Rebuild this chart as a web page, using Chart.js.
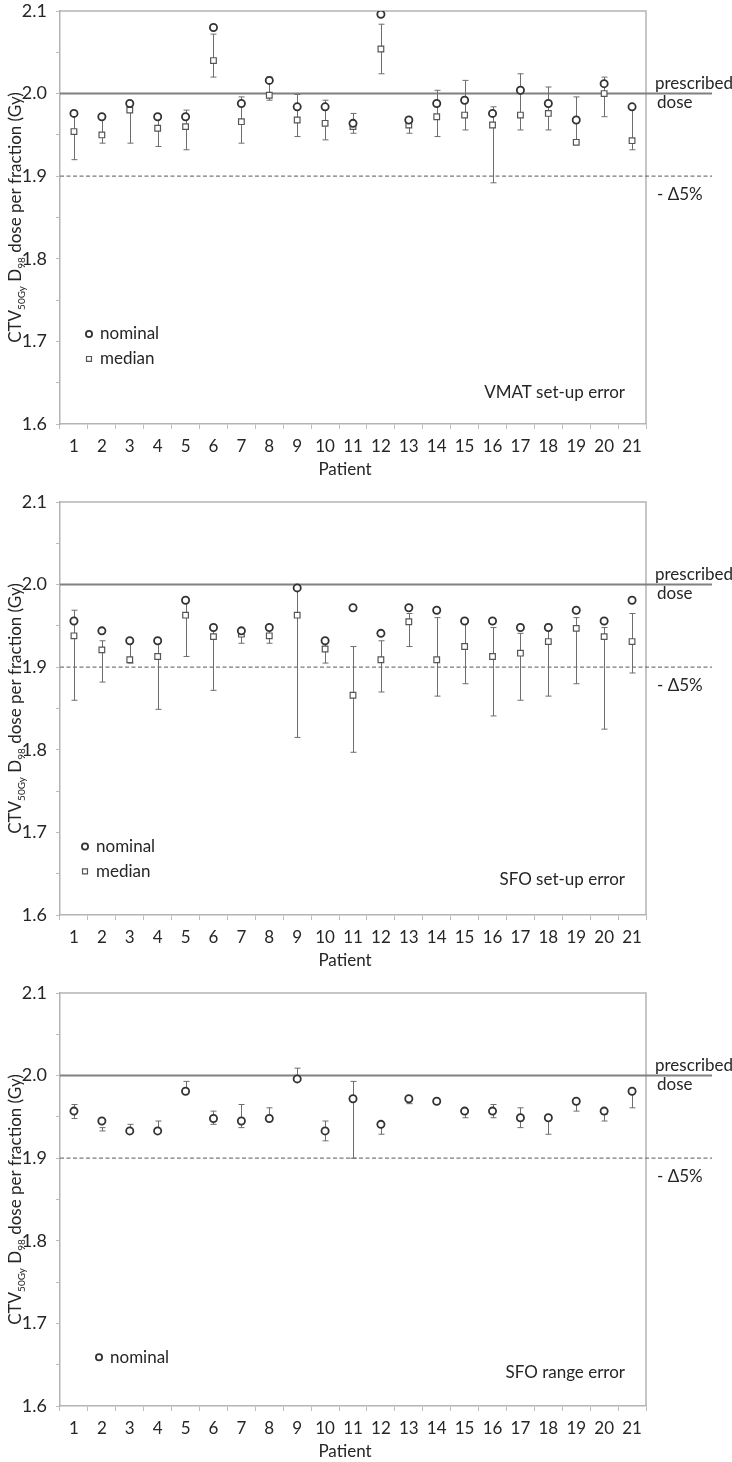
<!DOCTYPE html>
<html>
<head>
<meta charset="utf-8">
<script src="https://cdn.jsdelivr.net/npm/chart.js@4"></script>
<style>
  html, body { margin: 0; padding: 0; background: #fff; overflow: hidden; }
  body { width: 732px; height: 1462px; position: relative; }
  canvas { position: absolute; left: 0; }
</style>
</head>
<body>
<canvas id="vmatChart" width="732" height="480" style="top:0px"></canvas>
<canvas id="sfoChart" width="732" height="480" style="top:491px"></canvas>
<canvas id="rangeChart" width="732" height="480" style="top:982px"></canvas>
<script>
// Data
const patients = ['1','2','3','4','5','6','7','8','9','10','11','12','13','14','15','16','17','18','19','20','21'];
const prescribedDose = 2.0;
const minus5pct = 1.9;

// VMAT set-up error
const vmatNominal = [1.976, 1.972, 1.988, 1.972, 1.972, 2.080, 1.988, 2.016, 1.984, 1.984, 1.964, 2.096, 1.968, 1.988, 1.992, 1.976, 2.004, 1.988, 1.968, 2.012, 1.984];
const vmatMedian  = [1.954, 1.950, 1.980, 1.958, 1.960, 2.040, 1.966, 1.998, 1.968, 1.964, 1.960, 2.054, 1.962, 1.972, 1.974, 1.962, 1.974, 1.976, 1.941, 2.000, 1.943];
const vmatLow     = [1.920, 1.940, 1.940, 1.936, 1.932, 2.020, 1.940, 1.992, 1.948, 1.944, 1.952, 2.024, 1.952, 1.948, 1.956, 1.892, 1.956, 1.956, 1.941, 1.972, 1.932];
const vmatHigh    = [1.975, 1.972, 1.988, 1.972, 1.980, 2.072, 1.996, 2.020, 1.999, 1.992, 1.976, 2.084, 1.968, 2.004, 2.016, 1.984, 2.024, 2.008, 1.996, 2.020, 1.984];

// SFO set-up error
const sfoNominal = [1.956, 1.944, 1.932, 1.932, 1.981, 1.948, 1.944, 1.948, 1.996, 1.932, 1.972, 1.941, 1.972, 1.969, 1.956, 1.956, 1.948, 1.948, 1.969, 1.956, 1.981];
const sfoMedian  = [1.938, 1.921, 1.909, 1.913, 1.963, 1.937, 1.940, 1.938, 1.963, 1.922, 1.866, 1.909, 1.955, 1.909, 1.925, 1.913, 1.917, 1.931, 1.947, 1.937, 1.931];
const sfoLow     = [1.860, 1.882, 1.905, 1.849, 1.913, 1.872, 1.929, 1.929, 1.815, 1.905, 1.797, 1.870, 1.925, 1.865, 1.880, 1.841, 1.860, 1.865, 1.880, 1.825, 1.893];
const sfoHigh    = [1.969, 1.932, 1.932, 1.932, 1.981, 1.948, 1.944, 1.948, 1.996, 1.932, 1.925, 1.932, 1.965, 1.960, 1.956, 1.948, 1.941, 1.952, 1.960, 1.948, 1.965];

// SFO range error
const rangeNominal = [1.957, 1.945, 1.933, 1.933, 1.981, 1.948, 1.945, 1.948, 1.996, 1.933, 1.972, 1.941, 1.972, 1.969, 1.957, 1.957, 1.949, 1.949, 1.969, 1.957, 1.981];
const rangeLow     = [1.948, 1.933, 1.933, 1.933, 1.981, 1.941, 1.937, 1.948, 1.996, 1.921, 1.900, 1.929, 1.966, 1.969, 1.949, 1.949, 1.937, 1.929, 1.957, 1.945, 1.961];
const rangeHigh    = [1.965, 1.937, 1.941, 1.945, 1.993, 1.957, 1.965, 1.961, 2.009, 1.945, 1.993, 1.941, 1.972, 1.969, 1.957, 1.965, 1.961, 1.949, 1.969, 1.953, 1.981];

const FONT = 'Lato, "Open Sans", sans-serif';
const TEXT = '#262626';

const nominalStyle = { pointStyle: 'circle', pointRadius: 3.6, pointBorderWidth: 1.8, pointBorderColor: '#333', pointBackgroundColor: '#fff' };
const medianStyle  = { pointStyle: 'rect', pointRadius: 4, pointBorderWidth: 1.2, pointBorderColor: '#555', pointBackgroundColor: '#fff' };

function line(ctx, x1, y1, x2, y2) {
  ctx.beginPath(); ctx.moveTo(x1, y1); ctx.lineTo(x2, y2); ctx.stroke();
}

const decor = {
  id: 'decor',
  beforeDatasetsDraw(chart, args, opts) {
    const { ctx, chartArea: a, scales: { x, y } } = chart;
    ctx.save();
    // frame top + right
    ctx.strokeStyle = '#b4b4b4'; ctx.lineWidth = 1.5;
    ctx.beginPath(); ctx.moveTo(a.left, a.top); ctx.lineTo(a.right, a.top); ctx.lineTo(a.right, a.bottom); ctx.stroke();
    // prescribed dose + -5% lines
    const yp = y.getPixelForValue(prescribedDose);
    ctx.strokeStyle = '#808080'; ctx.lineWidth = 2;
    line(ctx, a.left, yp, a.right + 66, yp);
    const yd = y.getPixelForValue(minus5pct);
    ctx.strokeStyle = '#7a7a7a'; ctx.lineWidth = 1.2; ctx.setLineDash([4, 2.5]);
    line(ctx, a.left, yd, a.right + 66, yd);
    ctx.setLineDash([]);
    // error bars
    ctx.strokeStyle = '#6e6e6e'; ctx.lineWidth = 1;
    opts.low.forEach((lo, i) => {
      const px = Math.round(x.getPixelForValue(i)) + 0.5;
      const y1 = y.getPixelForValue(lo), y2 = y.getPixelForValue(opts.high[i]);
      line(ctx, px, y1, px, y2);
      line(ctx, px - 3, y1, px + 3, y1);
      line(ctx, px - 3, y2, px + 3, y2);
    });
    ctx.restore();
  },
  afterDraw(chart, args, opts) {
    const { ctx, chartArea: a, scales: { y } } = chart;
    ctx.save();
    ctx.fillStyle = TEXT;
    ctx.font = '17px ' + FONT;
    ctx.textBaseline = 'middle';
    ctx.textAlign = 'left';
    const yp = y.getPixelForValue(prescribedDose);
    ctx.fillText('prescribed', a.right + 9, yp - 10);
    ctx.fillText('dose', a.right + 11, yp + 9);
    const yd = y.getPixelForValue(minus5pct);
    ctx.fillText('- \u0394' + '5%', a.right + 11, yd + 18);

    // panel label
    ctx.textAlign = 'right';
    ctx.fillText(opts.label, a.right - 21, a.bottom - opts.labelOffset);

    // legend
    ctx.textAlign = 'left';
    opts.legend.forEach((item, i) => {
      const lx = a.left + opts.legendX, ly = y.getPixelForValue(opts.legendY) + i * 25;
      const st = item.style;
      ctx.strokeStyle = st.pointBorderColor; ctx.fillStyle = '#fff'; ctx.lineWidth = st.pointBorderWidth;
      Chart.helpers.drawPoint(ctx, { pointStyle: st.pointStyle, radius: st.pointRadius - 0.5, rotation: 0, borderWidth: st.pointBorderWidth }, lx, ly);
      ctx.fillStyle = TEXT;
      ctx.fillText(item.text, lx + 11, ly);
    });

    // x title
    ctx.textAlign = 'center';
    ctx.fillText('Patient', (a.left + a.right) / 2 - 8, a.bottom + 46);

    // y title with subscripts
    ctx.translate(21, (a.top + a.bottom) / 2);
    ctx.rotate(-Math.PI / 2);
    ctx.textBaseline = 'alphabetic';
    const parts = [['CTV', 17, 0], ['50Gy', 10, 4], [' D', 17, 0], ['98', 10, 4], [' dose per fraction (Gy)', 17, 0]];
    let total = 0;
    parts.forEach(p => { ctx.font = p[1] + 'px ' + FONT; total += ctx.measureText(p[0]).width; });
    let cx = -total / 2;
    ctx.textAlign = 'left';
    parts.forEach(p => {
      ctx.font = p[1] + 'px ' + FONT;
      ctx.fillText(p[0], cx, p[2]);
      cx += ctx.measureText(p[0]).width;
    });
    ctx.restore();
  }
};

function makeChart(id, datasets, decorOpts) {
  return new Chart(document.getElementById(id), {
    type: 'line',
    data: { labels: patients, datasets: datasets },
    options: {
      responsive: false,
      animation: false,
      layout: { padding: { top: 11, right: 86, left: 0, bottom: 0 } },
      plugins: { legend: { display: false }, tooltip: { enabled: false }, decor: decorOpts },
      scales: {
        x: {
          type: 'category',
          offset: true,
          grid: { offset: true, drawOnChartArea: false, tickLength: 5, color: '#bdbdbd', lineWidth: 1 },
          border: { color: '#b4b4b4', width: 1.5 },
          ticks: { padding: 7, autoSkip: false, maxRotation: 0, color: TEXT, font: { family: FONT, size: 17 } },
          afterFit: s => { s.height = 56; s.paddingLeft = 0; s.paddingRight = 0; }
        },
        y: {
          min: 1.6, max: 2.1,
          grid: { drawOnChartArea: false, tickLength: 4, color: '#bdbdbd' },
          border: { color: '#b4b4b4', width: 1.5 },
          ticks: {
            stepSize: 0.05, padding: 9, color: TEXT, font: { family: FONT, size: 18 },
            callback: v => Math.abs(v * 10 - Math.round(v * 10)) < 1e-6 ? v.toFixed(1) : ''
          },
          afterFit: s => { s.width = 60; s.paddingTop = 0; s.paddingBottom = 0; }
        }
      }
    },
    plugins: [decor]
  });
}

makeChart('vmatChart', [
  Object.assign({ label: 'nominal', data: vmatNominal, showLine: false }, nominalStyle),
  Object.assign({ label: 'median', data: vmatMedian, showLine: false }, medianStyle)
], {
  low: vmatLow, high: vmatHigh, label: 'VMAT set-up error', labelOffset: 31,
  legendX: 29, legendY: 1.709,
  legend: [{ text: 'nominal', style: nominalStyle }, { text: 'median', style: medianStyle }]
});

makeChart('sfoChart', [
  Object.assign({ label: 'nominal', data: sfoNominal, showLine: false }, nominalStyle),
  Object.assign({ label: 'median', data: sfoMedian, showLine: false }, medianStyle)
], {
  low: sfoLow, high: sfoHigh, label: 'SFO set-up error', labelOffset: 35,
  legendX: 25, legendY: 1.683,
  legend: [{ text: 'nominal', style: nominalStyle }, { text: 'median', style: medianStyle }]
});

makeChart('rangeChart', [
  Object.assign({ label: 'nominal', data: rangeNominal, showLine: false }, nominalStyle)
], {
  low: rangeLow, high: rangeHigh, label: 'SFO range error', labelOffset: 33,
  legendX: 39, legendY: 1.659,
  legend: [{ text: 'nominal', style: nominalStyle }]
});
</script>
</body>
</html>
